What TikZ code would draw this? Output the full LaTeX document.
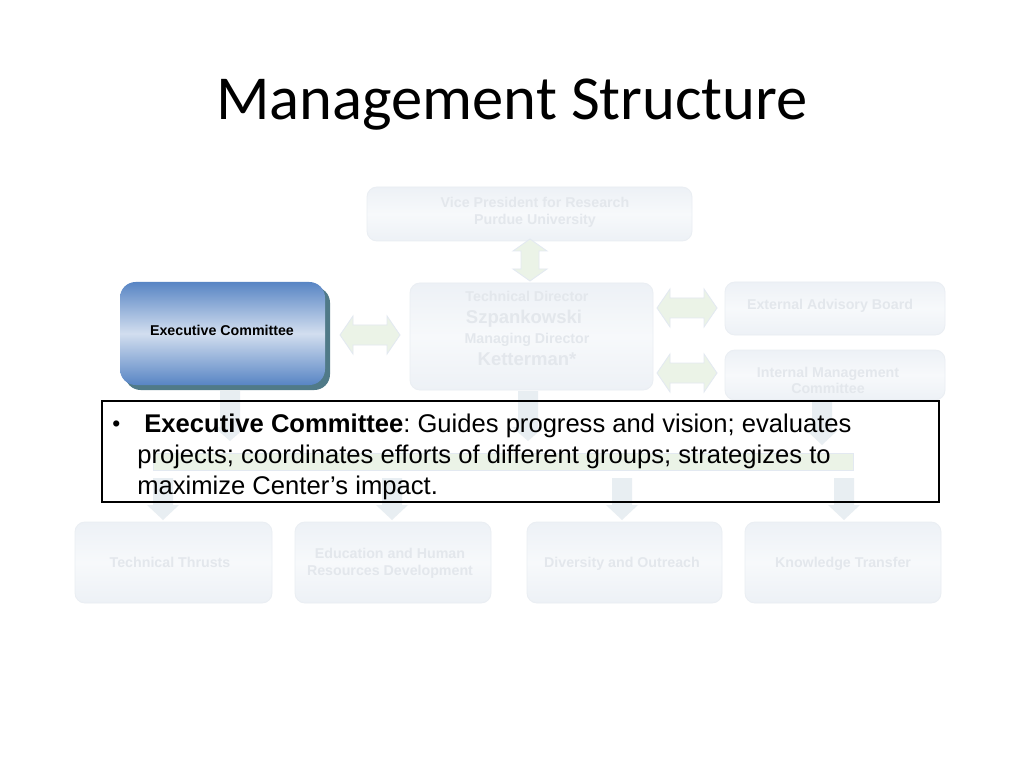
\documentclass[tikz,border=0pt]{standalone}
\usepackage{fontspec}
\setmainfont{Liberation Sans}
\newfontfamily\titlefont{Carlito}
\definecolor{fadetop}{HTML}{EDF1F6}
\definecolor{fademid}{HTML}{F7F9FB}
\definecolor{fadeedge}{HTML}{EAEEF3}
\definecolor{fadetext}{HTML}{E3E7EC}
\definecolor{fadegreen}{HTML}{EBF3E7}
\definecolor{fadegreenedge}{HTML}{E3E9F1}
\definecolor{fadedown}{HTML}{E8EEF2}
\definecolor{exectop}{HTML}{5885C4}
\definecolor{execmid}{HTML}{D2DEEF}
\definecolor{execshadow}{HTML}{507A88}
% horizontal double arrow centred at (#1,#2)
\newcommand\hdarrow[2]{\filldraw[arrowfill] (#1-30,#2) -- (#1-17,#2-19) -- (#1-17,#2-10) -- (#1+17,#2-10) -- (#1+17,#2-19) -- (#1+30,#2) -- (#1+17,#2+19) -- (#1+17,#2+10) -- (#1-17,#2+10) -- (#1-17,#2+19) -- cycle;}
% vertical double arrow centred at (#1,#2)
\newcommand\vdarrow[2]{\filldraw[arrowfill] (#1,#2-21) -- (#1+17,#2-9) -- (#1+9,#2-9) -- (#1+9,#2+9) -- (#1+17,#2+9) -- (#1,#2+21) -- (#1-17,#2+9) -- (#1-9,#2+9) -- (#1-9,#2-9) -- (#1-17,#2-9) -- cycle;}
% down arrow: x, top, head start, tip
\newcommand\downarr[4]{\fill[downfill] (#1-10,#2) -- (#1+10,#2) -- (#1+10,#3) -- (#1+16,#3) -- (#1,#4) -- (#1-16,#3) -- (#1-10,#3) -- cycle;}
\begin{document}
\begin{tikzpicture}[x=0.703125pt,y=-0.703125pt,
  fadebox/.style={draw=fadeedge,line width=0.6pt,top color=fadetop,bottom color=fadetop,middle color=fademid,rounded corners=7pt},
  fadetxt/.style={text=fadetext,font=\bfseries\fontsize{10}{12}\selectfont,align=center,inner sep=0pt,
    text height=7.3pt,text depth=2.1pt},
  bigfade/.style={text=fadetext,font=\bfseries\fontsize{13}{15}\selectfont,inner sep=0pt,
    text height=9.4pt,text depth=2.7pt},
  arrowfill/.style={fill=fadegreen,draw=fadegreenedge,line width=0.6pt},
  downfill/.style={fill=fadedown},
]
\useasboundingbox (0,0) rectangle (1024,768);
\fill[white] (0,0) rectangle (1024,768);

% title
\node[font=\titlefont\fontsize{44}{53}\selectfont,anchor=base] (title) at (512,120) {Management Structure};

% faded boxes
\draw[fadebox] (367,187) rectangle (692,241);
\node[fadetxt] (vp) at (535,220.5) {Vice President for Research\\Purdue University};

\draw[fadebox] (410,283) rectangle (653,390);
\node[fadetxt] (td1) at (527,298) {Technical Director};
\node[bigfade] (td2) at (524,319) {Szpankowski};
\node[fadetxt] (td3) at (527,340) {Managing Director};
\node[bigfade] (td4) at (527,361) {Ketterman*};

\draw[fadebox] (725,282) rectangle (945,335);
\node[fadetxt] (eab) at (830,306) {External Advisory Board};

\draw[fadebox] (725,350) rectangle (945,400);
\node[fadetxt,font=\bfseries\fontsize{10}{11.3}\selectfont] (imc) at (828,390) {Internal Management\\Committee};

% arrows between top boxes
\vdarrow{530}{260}
\hdarrow{370}{335}
\hdarrow{687}{308}
\hdarrow{687}{373}

% down arrows and bar
\downarr{230}{391}{427}{441}
\downarr{528}{391}{427}{441}
\downarr{822}{401}{430}{445}
\fill[fadegreen] (153,453) rectangle (853,470);
\draw[fadegreenedge,line width=0.6pt] (153,453) rectangle (853,470);
\downarr{163}{478}{505}{520}
\downarr{392}{478}{505}{520}
\downarr{622}{478}{505}{520}
\downarr{844}{478}{505}{520}

% bottom boxes
\draw[fadebox] (75,522) rectangle (272,603);
\node[fadetxt] (tt) at (170,564) {Technical Thrusts};
\draw[fadebox] (295,522) rectangle (491,603);
\node[fadetxt] (ed) at (390,571.5) {Education and Human\\Resources Development};
\draw[fadebox] (527,522) rectangle (722,603);
\node[fadetxt] (div) at (622,564) {Diversity and Outreach};
\draw[fadebox] (745,522) rectangle (941,603);
\node[fadetxt] (kt) at (843,564) {Knowledge Transfer};

% executive committee box
\fill[execshadow,rounded corners=11pt] (125,287) rectangle (330,390);
\shade[top color=exectop,bottom color=exectop,middle color=execmid,rounded corners=11pt] (120,282) rectangle (325,385);
\node[font=\bfseries\fontsize{10}{12}\selectfont] (exec) at (222,330) {Executive Committee};

% text box
\draw[black,line width=0.8pt] (102,401) rectangle (939,502);
\node[anchor=base west,font=\fontsize{16}{19}\selectfont,inner sep=0pt] (bullet) at (112,431) {•};
\node[anchor=north west,inner sep=0pt,align=left,font=\frenchspacing\fontsize{18}{21.8}\selectfont] (desc) at (137,413.5)
 {\ \textbf{Executive Committee}: Guides progress and vision; evaluates\\
  projects; coordinates efforts of different groups; strategizes to\\
  maximize Center’s impact.};
\end{tikzpicture}
\end{document}
